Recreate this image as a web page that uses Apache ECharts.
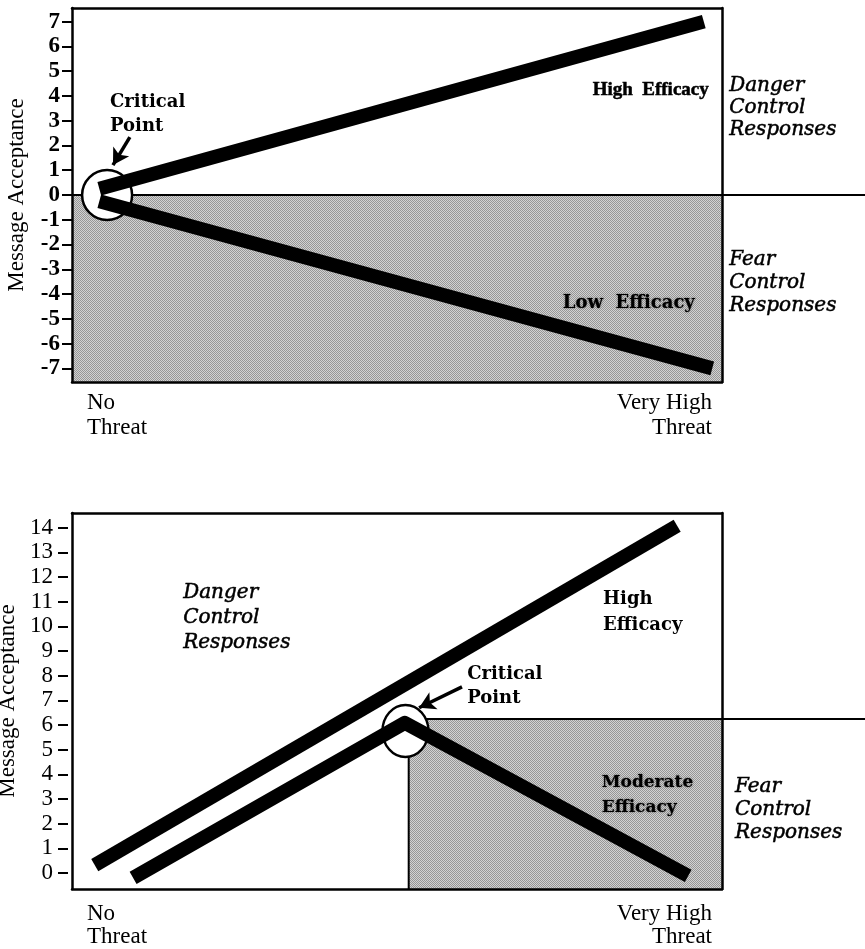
<!DOCTYPE html>
<html><head><meta charset="utf-8">
<script src="https://cdn.jsdelivr.net/npm/echarts@6/dist/echarts.min.js"></script>
<style>html,body{margin:0;padding:0;background:#fff}#c{width:865px;height:949px}</style>
</head><body><div id="c"></div>
<script>
// ---------- data ----------
const xRange = [0, 100];
const xLabels = ['No\nThreat', 'Very High\nThreat'];
const yName = 'Message Acceptance';

const topTicks = [-7, -6, -5, -4, -3, -2, -1, 0, 1, 2, 3, 4, 5, 6, 7];
const topRange = [-7.55, 7.55];
const topHigh = [[4.2, 0.25], [97.2, 7.0]];
const topLow = [[4.2, -0.25], [98.5, -7.0]];
const topZeroLine = [[0, 0, 122, 0]];
const topCircle = [[5.4, 0]];
const topShadeX = [0, 100];
const topShadeY = [-7.55, 0];
const topArrow = [[8.9, 2.34], [6.3, 1.21]];
const topNotes = [
  ['Critical\nPoint', 5.85, 3.25, 'boldWide'],
  ['High  Efficacy', 80.1, 4.24, 'boldNarrow'],
  ['Low  Efficacy', 75.5, -4.36, 'boldShadow'],
  ['Danger\nControl\nResponses', 101.1, 3.51, 'italic22'],
  ['Fear\nControl\nResponses', 101.1, -3.55, 'italic23']
];

const bottomTicks = [0, 1, 2, 3, 4, 5, 6, 7, 8, 9, 10, 11, 12, 13, 14];
const bottomRange = [-0.65, 14.6];
const botHigh = [[3.5, 0.32], [93.1, 14.08]];
const botModerate = [[9.4, -0.2], [51.2, 6.09], [94.8, -0.12]];
const botRefLines = [[51.8, 6.25, 122, 6.25], [51.8, 6.25, 51.8, -0.65]];
const botCircle = [[51.3, 5.76]];
const botShadeX = [51.8, 100];
const botShadeY = [-0.65, 6.25];
const botArrow = [[60, 7.55], [53.4, 6.7]];
const botNotes = [
  ['Critical\nPoint', 60.8, 7.59, 'boldWide'],
  ['Danger\nControl\nResponses', 17.1, 10.35, 'italic25'],
  ['High\nEfficacy', 81.7, 10.59, 'boldWide26'],
  ['Moderate\nEfficacy', 81.5, 3.15, 'boldShadow25'],
  ['Fear\nControl\nResponses', 102, 2.56, 'italic23']
];

// ---------- styles ----------
const SERIF = 'Liberation Serif';
const WIDE = 'DejaVu Serif';
const INK = {textBorderColor: '#000', textBorderWidth: 0.5};
const noteStyles = {
  boldWide: {fontFamily: WIDE, fontWeight: 'bold', fontSize: 18, lineHeight: 24},
  boldWide26: {fontFamily: WIDE, fontWeight: 'bold', fontSize: 18, lineHeight: 26},
  boldNarrow: Object.assign({fontFamily: SERIF, fontWeight: 'bold', fontSize: 19, lineHeight: 22}, INK),
  boldShadow: {fontFamily: WIDE, fontWeight: 'bold', fontSize: 18, lineHeight: 22, textShadowColor: 'rgba(0,0,0,0.6)', textShadowBlur: 2},
  boldShadow25: {fontFamily: WIDE, fontWeight: 'bold', fontSize: 17, lineHeight: 25, textShadowColor: 'rgba(0,0,0,0.6)', textShadowBlur: 2},
  italic22: Object.assign({fontFamily: WIDE, fontStyle: 'italic', fontSize: 20, lineHeight: 22}, INK),
  italic23: Object.assign({fontFamily: WIDE, fontStyle: 'italic', fontSize: 20, lineHeight: 23}, INK),
  italic25: Object.assign({fontFamily: WIDE, fontStyle: 'italic', fontSize: 20, lineHeight: 25}, INK)
};

function stipple() {
  const c = document.createElement('canvas');
  c.width = 4; c.height = 4;
  const g = c.getContext('2d');
  g.fillStyle = '#d2d2d2'; g.fillRect(0, 0, 4, 4);
  g.fillStyle = '#969696';
  for (let y = 0; y < 4; y++) for (let x = 0; x < 4; x++) if ((x + y) % 2 === 0) g.fillRect(x, y, 1, 1);
  return {image: c, repeat: 'repeat'};
}
const shadeFill = stipple();

const AX = {color: '#000', width: 2.5};

function xAxes(gi, labelMargin, lh) {
  return [
    {gridIndex: gi, type: 'value', min: xRange[0], max: xRange[1], interval: xRange[1] - xRange[0], position: 'bottom',
      axisLine: {show: true, onZero: false, lineStyle: AX}, axisTick: {show: false}, splitLine: {show: false},
      axisLabel: {formatter: v => v === xRange[0] ? xLabels[0] : (v === xRange[1] ? xLabels[1] : ''),
        alignMinLabel: 'left', alignMaxLabel: 'right', padding: [0, 10, 0, 15],
        fontFamily: SERIF, fontSize: 23, lineHeight: lh, color: '#000', margin: labelMargin}, z: 6},
    {gridIndex: gi, type: 'value', min: xRange[0], max: xRange[1], position: 'top',
      axisLine: {show: true, onZero: false, lineStyle: AX}, axisTick: {show: false}, axisLabel: {show: false}, splitLine: {show: false}, z: 6}
  ];
}

function lineSeries(xi, yi, data, width, z) {
  return {type: 'line', xAxisIndex: xi, yAxisIndex: yi, data: data, showSymbol: false, symbol: 'none',
    clip: false, z: z, silent: true,
    lineStyle: {color: '#000', width: width, cap: 'butt', join: 'round'}};
}
function refLineSeries(xi, yi, data) {
  return {type: 'custom', xAxisIndex: xi, yAxisIndex: yi, data: data, clip: false, z: 2, silent: true,
    renderItem: (params, api) => {
      const a = api.coord([api.value(0), api.value(1)]);
      const b = api.coord([api.value(2), api.value(3)]);
      return {type: 'line', shape: {x1: a[0], y1: a[1], x2: b[0], y2: b[1]}, style: {stroke: '#000', lineWidth: 2}};
    }};
}
function shadeSeries(xi, yi, sx, sy) {
  return {type: 'line', xAxisIndex: xi, yAxisIndex: yi, data: [[sx[0], sy[0]], [sx[1], sy[1]]], showSymbol: false, symbol: 'none',
    lineStyle: {opacity: 0}, z: 1, silent: true,
    markArea: {silent: true, itemStyle: {color: shadeFill}, data: [[{coord: [sx[0], sy[1]]}, {coord: [sx[1], sy[0]]}]]}};
}
function circleSeries(xi, yi, data, size, arrow) {
  return {type: 'scatter', xAxisIndex: xi, yAxisIndex: yi, data: data, symbol: 'circle', symbolSize: size, clip: false, z: 3, silent: true,
    itemStyle: {color: '#fff', borderColor: '#000', borderWidth: 2.5, opacity: 1},
    markLine: {silent: true, symbol: ['none', 'arrow'], symbolSize: [14, 16], label: {show: false},
      lineStyle: {color: '#000', width: 3.5, type: 'solid', opacity: 1},
      data: [[{coord: arrow[0]}, {coord: arrow[1]}]]}};
}
function noteSeries(xi, yi, notes) {
  return {type: 'scatter', xAxisIndex: xi, yAxisIndex: yi, clip: false, z: 5, silent: true, symbolSize: 0,
    itemStyle: {color: '#000'},
    data: notes.map(n => ({value: [n[1], n[2]], name: n[0],
      label: Object.assign({show: true, position: 'right', distance: 0, color: '#000', opacity: 1, formatter: p => p.name, align: 'left'}, noteStyles[n[3]])}))};
}

const option = {
  animation: false,
  backgroundColor: '#fff',
  grid: [
    {left: 72, top: 8, right: 143, height: 374, outerBoundsMode: 'none', containLabel: false},
    {left: 72, top: 513, right: 143, height: 376, outerBoundsMode: 'none', containLabel: false}
  ],
  xAxis: [].concat(xAxes(0, 8, 25), xAxes(1, 13, 23)),
  yAxis: [
    {gridIndex: 0, type: 'value', min: topRange[0], max: topRange[1], position: 'left',
      axisLine: {show: true, onZero: false, lineStyle: AX},
      axisTick: {show: true, customValues: topTicks, length: 10, lineStyle: {color: '#000', width: 2}},
      axisLabel: {customValues: topTicks, margin: 12, fontFamily: SERIF, fontSize: 23, fontWeight: 'bold', color: '#000'},
      splitLine: {show: false}, name: yName, nameLocation: 'middle', nameGap: 44,
      nameTextStyle: {fontFamily: SERIF, fontSize: 23, color: '#000'}, z: 6},
    {gridIndex: 0, type: 'value', min: topRange[0], max: topRange[1], position: 'right',
      axisLine: {show: true, onZero: false, lineStyle: AX}, axisTick: {show: false}, axisLabel: {show: false}, splitLine: {show: false}, z: 6},
    {gridIndex: 1, type: 'value', min: bottomRange[0], max: bottomRange[1], position: 'left',
      axisLine: {show: true, onZero: false, lineStyle: AX}, axisTick: {show: false}, axisLabel: {show: false}, splitLine: {show: false}, z: 6},
    {gridIndex: 1, type: 'value', min: bottomRange[0], max: bottomRange[1], position: 'left', offset: 4,
      axisLine: {show: false, onZero: false},
      axisTick: {show: true, customValues: bottomTicks, length: 10, lineStyle: {color: '#000', width: 2}},
      axisLabel: {customValues: bottomTicks, margin: 15, fontFamily: SERIF, fontSize: 23, color: '#000'},
      splitLine: {show: false}, name: yName, nameLocation: 'middle', nameGap: 40,
      nameTextStyle: {fontFamily: SERIF, fontSize: 23, color: '#000'}, z: 6},
    {gridIndex: 1, type: 'value', min: bottomRange[0], max: bottomRange[1], position: 'right',
      axisLine: {show: true, onZero: false, lineStyle: AX}, axisTick: {show: false}, axisLabel: {show: false}, splitLine: {show: false}, z: 6}
  ],
  series: [
    // top chart
    shadeSeries(0, 0, topShadeX, topShadeY),
    refLineSeries(0, 0, topZeroLine),
    circleSeries(0, 0, topCircle, 50, topArrow),
    lineSeries(0, 0, topHigh, 14, 4),
    lineSeries(0, 0, topLow, 14, 4),
    noteSeries(0, 0, topNotes),
    // bottom chart
    shadeSeries(2, 3, botShadeX, botShadeY),
    refLineSeries(2, 3, botRefLines),
    circleSeries(2, 3, botCircle, [46, 52], botArrow),
    lineSeries(2, 3, botHigh, 14, 4),
    lineSeries(2, 3, botModerate, 14, 4),
    noteSeries(2, 3, botNotes)
  ]
};
const chart = echarts.init(document.getElementById('c'), null, {renderer: 'canvas'});
chart.setOption(option);
</script></body></html>
